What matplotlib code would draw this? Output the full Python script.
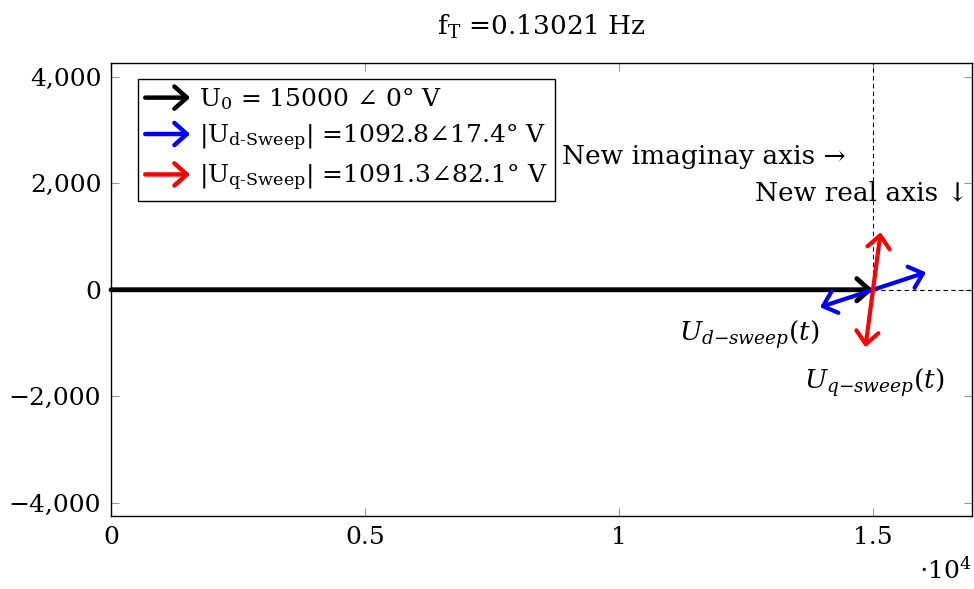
import numpy as np
import matplotlib
matplotlib.use("Agg")
import matplotlib.pyplot as plt
from matplotlib.patches import FancyArrowPatch
from matplotlib.legend_handler import HandlerPatch
from matplotlib.ticker import FuncFormatter

# phasor data
u0_mag, u0_ang = 15000, 0.0
ud_mag, ud_ang = 1092.8, 17.4
uq_mag, uq_ang = 1091.3, 82.1
f_t = 0.13021

legend_labels = [
    r"U$_0$ = 15000 $\angle$ 0° V",
    r"|U$_{\text{d-Sweep}}$| =1092.8$\angle$17.4° V",
    r"|U$_{\text{q-Sweep}}$| =1091.3$\angle$82.1° V",
]
colors = ["black", "blue", "red"]

x_ticks = [0, 5000, 10000, 15000]
x_tick_labels = ["0", "0.5", "1", "1.5"]
y_ticks = [-4000, -2000, 0, 2000, 4000]

plt.rcParams["font.family"] = ["DejaVu Serif", "DejaVu Sans"]
plt.rcParams["mathtext.fontset"] = "dejavuserif"


class HandlerArrow(HandlerPatch):
    def create_artists(self, legend, orig_handle, xdescent, ydescent,
                       width, height, fontsize, trans):
        y = height / 2 - ydescent
        p = FancyArrowPatch((-xdescent, y), (-xdescent + width, y),
                            arrowstyle="->,head_length=0.45,head_width=0.4",
                            mutation_scale=20, lw=3.2,
                            color=orig_handle.get_edgecolor(),
                            shrinkA=0, shrinkB=0)
        p.set_transform(trans)
        return [p]


def arrow(ax, start, end, color, style, lw):
    ax.annotate("", xy=end, xytext=start,
                arrowprops=dict(arrowstyle=style + ",head_length=0.45,head_width=0.4",
                                mutation_scale=20, lw=lw, color=color,
                                shrinkA=0, shrinkB=0))


fig = plt.figure(figsize=(9.74, 5.89), dpi=100)
ax = fig.add_axes([0.114, 0.124, 0.884, 0.769])

ax.set_xlim(0, 16950)
ax.set_ylim(-4250, 4260)

# dashed new axes
ax.plot([u0_mag, u0_mag], [0, 4260], "k--", lw=0.8, dashes=(4, 3))
ax.plot([u0_mag, 16950], [0, 0], "k--", lw=0.8, dashes=(4, 3))

# U0
u0_end = (u0_mag * np.cos(np.radians(u0_ang)), u0_mag * np.sin(np.radians(u0_ang)))
arrow(ax, (0, 0), u0_end, "black", "->", 3.5)

# sweep phasors (double arrows through the U0 tip)
for mag, ang, c in [(ud_mag, ud_ang, "blue"), (uq_mag, uq_ang, "red")]:
    dx = mag * np.cos(np.radians(ang))
    dy = mag * np.sin(np.radians(ang))
    arrow(ax, (u0_end[0] - dx, u0_end[1] - dy), (u0_end[0] + dx, u0_end[1] + dy), c, "<->", 3)

fs = 19
ax.text(14470, 2500, "New imaginay axis →", ha="right", va="center", fontsize=fs)
ax.text(16890, 1820, "New real axis ↓", ha="right", va="center", fontsize=fs)
ax.text(12570, -850, r"$U_{d{-}sweep}(t)$", ha="center", va="center", fontsize=fs)
ax.text(15030, -1750, r"$U_{q{-}sweep}(t)$", ha="center", va="center", fontsize=fs)

ax.set_title(r"f$_\mathrm{T}$ =%.5f Hz" % f_t, fontsize=fs, pad=20)

ax.set_xticks(x_ticks)
ax.set_xticklabels(x_tick_labels)
ax.set_yticks(y_ticks)
ax.yaxis.set_major_formatter(FuncFormatter(lambda v, p: f"{int(v):,}".replace("-", "−")))
ax.tick_params(direction="in", length=6, width=0.8, color="0.6", labelsize=18,
               top=True, right=True, pad=7)
for s in ax.spines.values():
    s.set_linewidth(1.0)

ax.text(1.0, -0.12, r"$\cdot 10^{4}$", transform=ax.transAxes, ha="right",
        va="center", fontsize=18)

handles = [FancyArrowPatch((0, 0), (1, 0), color=c) for c in colors]
leg = ax.legend(handles, legend_labels, handler_map={FancyArrowPatch: HandlerArrow()},
                loc="upper left", bbox_to_anchor=(0.031, 0.965), borderaxespad=0,
                fontsize=18, fancybox=False, framealpha=1, edgecolor="black",
                handlelength=1.8, handletextpad=0.35, labelspacing=0.4,
                borderpad=0.3)
leg.get_frame().set_linewidth(1.0)

fig.savefig("out.png", dpi=100)
